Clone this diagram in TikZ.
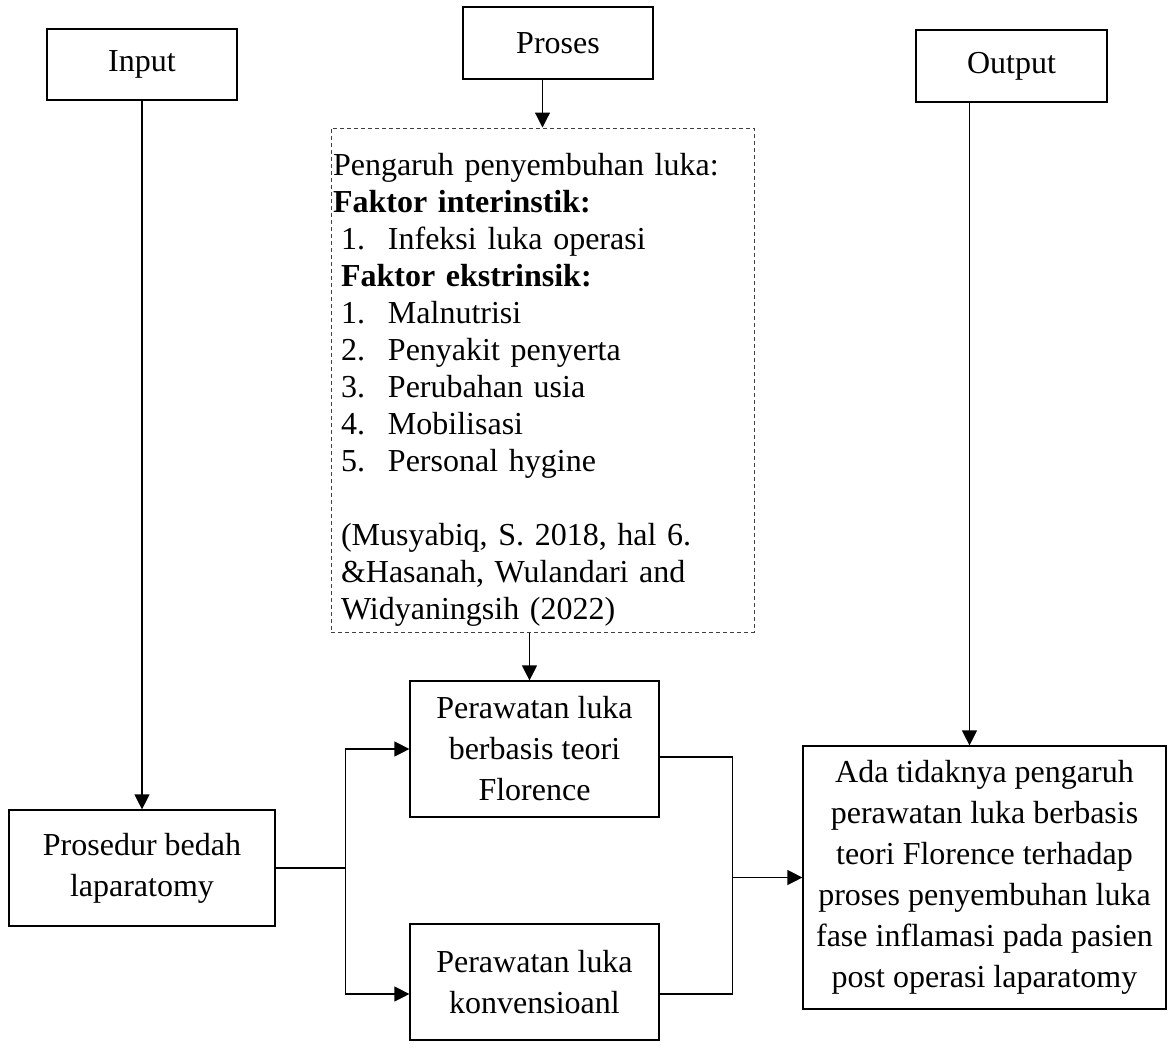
\documentclass[tikz,border=0pt]{standalone}
\usepackage{fontspec}
\setmainfont{Liberation Serif}
\usetikzlibrary{arrows.meta, calc}

\begin{document}
\begin{tikzpicture}[
        x=1pt, y=-1pt,
        line width=1.2pt,
        >={Triangle[length=15pt, width=15pt]},
        kotak/.style={draw, inner sep=0pt, align=center, font=\fontsize{32}{41}\selectfont},
        faktorbox/.style={draw=black!75, line width=1pt, dash pattern=on 4pt off 3pt,
            inner xsep=2pt, inner ysep=0pt, text width=419pt, align=left,
            font=\fontsize{32}{37}\selectfont},
    ]
    \useasboundingbox (0,0) rectangle (1168,1061);

    \node[kotak, minimum width=190pt, minimum height=71pt] (input) at (142, 64.5) {Input};
    \node[kotak, minimum width=190pt, minimum height=72pt] (proses) at (558, 43) {Proses};
    \node[kotak, minimum width=191pt, minimum height=72pt] (output) at (1011.5, 66) {Output};

    \node[faktorbox, minimum width=423pt, minimum height=504pt] (faktor) at (542.5, 380) {%
        \strut\\[-21pt]
        Pengaruh penyembuhan luka:\\
        \textbf{Faktor interinstik:}\\
        \hspace*{8pt}\makebox[47pt][l]{1.}Infeksi luka operasi\\
        \hspace*{8pt}\textbf{Faktor ekstrinsik:}\\
        \hspace*{8pt}\makebox[47pt][l]{1.}Malnutrisi\\
        \hspace*{8pt}\makebox[47pt][l]{2.}Penyakit penyerta\\
        \hspace*{8pt}\makebox[47pt][l]{3.}Perubahan usia\\
        \hspace*{8pt}\makebox[47pt][l]{4.}Mobilisasi\\
        \hspace*{8pt}\makebox[47pt][l]{5.}Personal hygine\\
        \strut\\
        \hspace*{8pt}(Musyabiq, S. 2018, hal 6.\\
        \hspace*{8pt}\&Hasanah, Wulandari and\\
        \hspace*{8pt}Widyaningsih (2022)};

    \node[kotak, minimum width=266pt, minimum height=116pt] (prosedur) at (142, 868) {Prosedur bedah\\laparatomy};
    \node[kotak, minimum width=249pt, minimum height=136pt] (rawat1) at (534.5, 749) {Perawatan luka\\berbasis teori\\Florence};
    \node[kotak, minimum width=249pt, minimum height=116pt] (rawat2) at (534.5, 982) {Perawatan luka\\konvensioanl};
    \node[kotak, minimum width=363pt, minimum height=263pt] (hasil) at (984.5, 877.5) {Ada tidaknya pengaruh\\perawatan luka berbasis\\teori Florence terhadap\\proses penyembuhan luka\\fase inflamasi pada pasien\\post operasi laparatomy};

    \draw[->] (input) -- (prosedur);
    \draw[->] (proses.south -| faktor.north) -- (faktor.north);
    \draw[->] ([xshift=-5pt]faktor.south -| rawat1.north) -- ([xshift=-5pt]rawat1.north);
    \draw[->] ([xshift=-15pt]hasil.north |- output.south) -- ([xshift=-15pt]hasil.north);

    \coordinate (cabang) at ($(prosedur.east)+(70,0)$);
    \draw[->] (prosedur.east) -- (cabang) |- (rawat1.west);
    \draw[->] (cabang) |- ([yshift=-12pt]rawat2.west);

    \draw ([yshift=-8pt]rawat1.east) -- ++(73,0) coordinate (gabung) |- ([yshift=-12pt]rawat2.east);
    \draw[->] (gabung |- hasil.west) -- (hasil.west);
\end{tikzpicture}
\end{document}
